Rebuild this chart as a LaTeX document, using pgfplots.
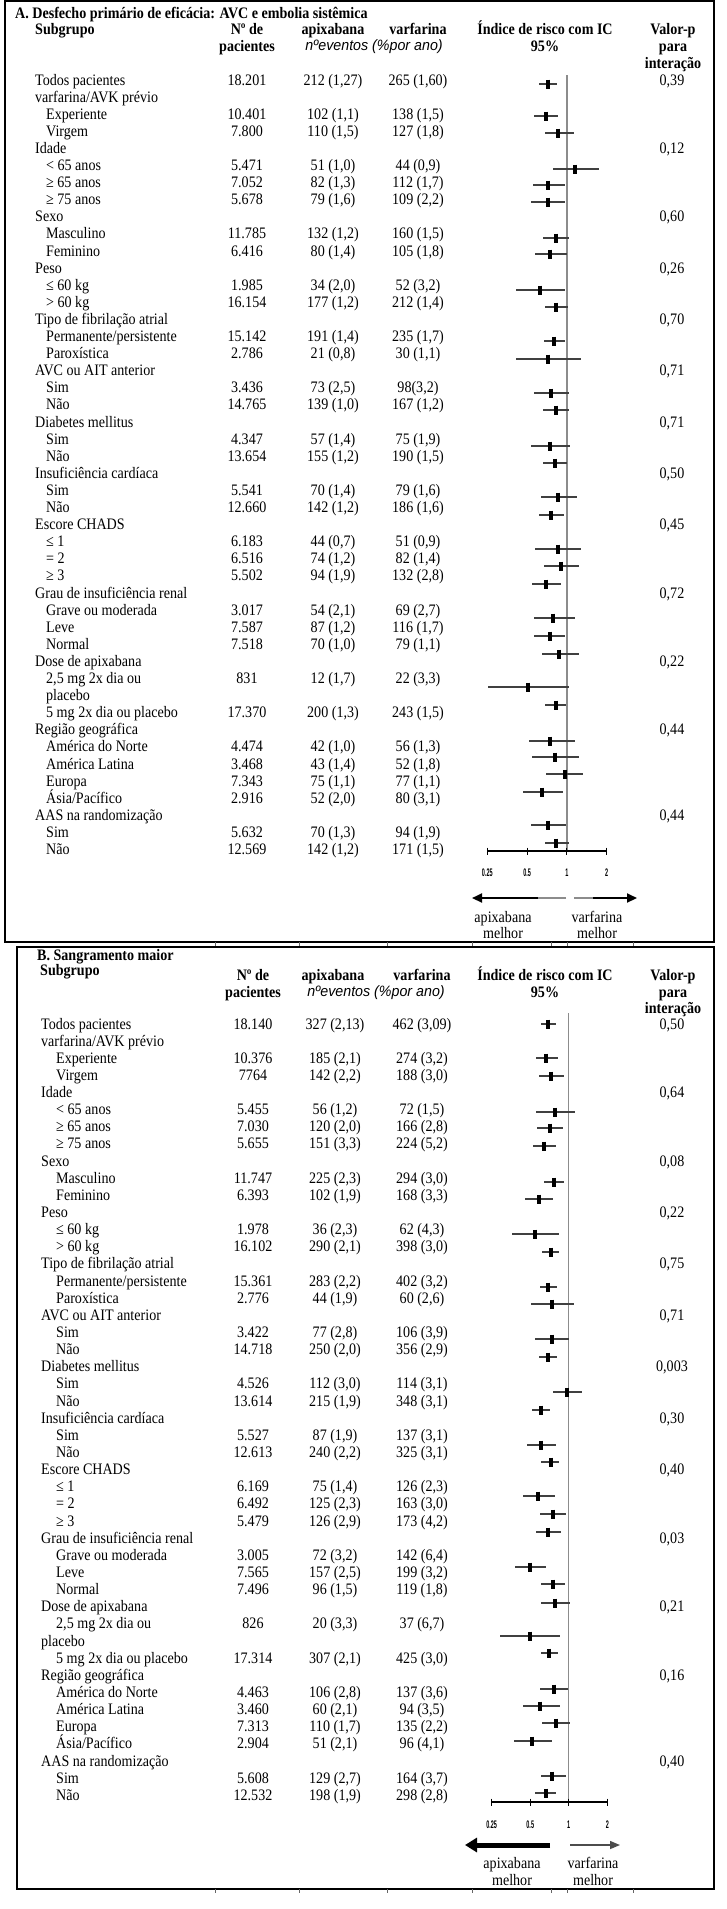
\documentclass[border=0pt]{standalone}
\usepackage{fontspec}
\setmainfont{Liberation Serif}[FakeStretch=0.88]
\newfontfamily\itsans{Liberation Sans}[FakeStretch=0.95]
\newfontfamily\tickfont{Liberation Sans}[FakeStretch=0.5]
\usepackage{pgfplots}
\usepackage{pgfplotstable}
\pgfplotsset{compat=1.18}
\usetikzlibrary{arrows.meta}

% forest data: y position (px from top), hazard ratio, CI low, CI high
\pgfplotstableread{
y hr lo hi
84 0.72 0.62 0.84
116 0.70 0.56 0.86
133 0.855 0.678 1.123
169 1.156 0.779 1.736
185 0.718 0.550 0.971
202 0.714 0.534 0.960
238 0.830 0.655 1.041
254 0.740 0.569 1.000
290 0.628 0.414 0.971
307 0.830 0.686 1.018
341 0.797 0.670 0.971
359 0.718 0.414 1.276
393 0.757 0.566 1.029
410 0.826 0.655 1.029
446 0.748 0.534 1.060
463 0.816 0.655 1.000
497 0.855 0.640 1.190
515 0.757 0.618 0.943
549 0.850 0.576 1.284
566 0.901 0.674 1.225
584 0.698 0.547 0.906
618 0.784 0.566 1.143
636 0.740 0.566 0.971
654 0.875 0.647 1.225
687 0.504 0.252 1.030
705 0.826 0.686 0.983
741 0.748 0.513 1.143
757 0.816 0.544 1.225
774 0.971 0.698 1.321
792 0.651 0.468 0.933
825 0.718 0.531 0.988
843 0.830 0.678 1.041
}\forestA

\pgfplotstableread{
y hr lo hi
1024 0.685 0.608 0.796
1058 0.665 0.556 0.830
1076 0.727 0.590 0.925
1112 0.782 0.556 1.127
1128 0.710 0.565 0.898
1146 0.645 0.523 0.796
1182 0.763 0.645 0.914
1199 0.583 0.456 0.750
1234 0.549 0.360 0.845
1252 0.727 0.619 0.845
1287 0.685 0.597 0.811
1304 0.736 0.508 1.094
1339 0.736 0.549 1.000
1357 0.685 0.590 0.811
1392 0.970 0.750 1.271
1410 0.608 0.517 0.719
1445 0.610 0.470 0.800
1462 0.723 0.604 0.840
1496 0.575 0.440 0.777
1514 0.754 0.600 0.959
1532 0.689 0.559 0.876
1567 0.496 0.383 0.669
1584 0.754 0.611 0.942
1603 0.782 0.604 1.030
1636 0.496 0.289 0.850
1653 0.702 0.604 0.825
1689 0.763 0.600 0.988
1706 0.593 0.440 0.850
1723 0.791 0.619 1.030
1741 0.520 0.374 0.745
1776 0.745 0.604 0.959
1793 0.661 0.549 0.791
}\forestB

\newcommand\RA[7]{%
  \node[anchor=base west] at (#2,{80+17.1*#1+5}) {#3};
  \node[anchor=base] at (247,{80+17.1*#1+5}) {#4};
  \node[anchor=base] at (333,{80+17.1*#1+5}) {#5};
  \node[anchor=base] at (418,{80+17.1*#1+5}) {#6};
  \node[anchor=base] at (672,{80+17.1*#1+5}) {#7};}
\newcommand\RB[7]{%
  \node[anchor=base west] at (#2,{1024+17.14*#1+5}) {#3};
  \node[anchor=base] at (253,{1024+17.14*#1+5}) {#4};
  \node[anchor=base] at (335,{1024+17.14*#1+5}) {#5};
  \node[anchor=base] at (422,{1024+17.14*#1+5}) {#6};
  \node[anchor=base] at (672,{1024+17.14*#1+5}) {#7};}

\newcommand\tickfnt{\tickfont\bfseries\fontsize{11}{11}\selectfont}

\begin{document}
\begin{tikzpicture}
\begin{scope}[x=1pt,y=-1pt, every node/.style={inner sep=0pt, font=\fontsize{16}{17}\selectfont}]
\path (0,0) rectangle (727,1909);
\draw[line width=1.5pt] (5,1) rectangle (714,942);
\draw[line width=1.5pt] (17,947) rectangle (714,1889);
\foreach \xx in {215,299,387,472,551,567,633}{
  \draw[black!60, line width=0.8pt] (\xx,942) -- (\xx,946);
  \draw[black!60, line width=0.8pt] (\xx,1889) -- (\xx,1893);}

% ---------- Panel A header
\begin{scope}[every node/.style={inner sep=0pt, font=\fontsize{16}{17}\selectfont\bfseries}]
\node[anchor=base west] at (15,18) {A. Desfecho primário de eficácia: AVC e embolia sistêmica};
\node[anchor=base west] at (35,34) {Subgrupo};
\node[anchor=base] at (247,34) {Nº de};
\node[anchor=base] at (247,51) {pacientes};
\node[anchor=base] at (333,34) {apixabana};
\node[anchor=base] at (418,34) {varfarina};
\node[anchor=base] at (545,34) {Índice de risco com IC};
\node[anchor=base] at (545,51) {95\%};
\node[anchor=base] at (673,34) {Valor-p};
\node[anchor=base] at (673,51) {para};
\node[anchor=base] at (673,68) {interação};
\end{scope}
\node[anchor=base, font=\itsans\itshape\fontsize{15}{17}\selectfont] at (374,50) {nºeventos (\%por ano)};

\RA{0}{35}{Todos pacientes}{18.201}{212 (1,27)}{265 (1,60)}{0,39}
\RA{1}{35}{varfarina/AVK prévio}{}{}{}{}
\RA{2}{46}{Experiente}{10.401}{102 (1,1)}{138 (1,5)}{}
\RA{3}{46}{Virgem}{7.800}{110 (1,5)}{127 (1,8)}{}
\RA{4}{35}{Idade}{}{}{}{0,12}
\RA{5}{46}{< 65 anos}{5.471}{51 (1,0)}{44 (0,9)}{}
\RA{6}{46}{≥ 65 anos}{7.052}{82 (1,3)}{112 (1,7)}{}
\RA{7}{46}{≥ 75 anos}{5.678}{79 (1,6)}{109 (2,2)}{}
\RA{8}{35}{Sexo}{}{}{}{0,60}
\RA{9}{46}{Masculino}{11.785}{132 (1,2)}{160 (1,5)}{}
\RA{10}{46}{Feminino}{6.416}{80 (1,4)}{105 (1,8)}{}
\RA{11}{35}{Peso}{}{}{}{0,26}
\RA{12}{46}{≤ 60 kg}{1.985}{34 (2,0)}{52 (3,2)}{}
\RA{13}{46}{> 60 kg}{16.154}{177 (1,2)}{212 (1,4)}{}
\RA{14}{35}{Tipo de fibrilação atrial}{}{}{}{0,70}
\RA{15}{46}{Permanente/persistente}{15.142}{191 (1,4)}{235 (1,7)}{}
\RA{16}{46}{Paroxística}{2.786}{21 (0,8)}{30 (1,1)}{}
\RA{17}{35}{AVC ou AIT anterior}{}{}{}{0,71}
\RA{18}{46}{Sim}{3.436}{73 (2,5)}{98(3,2)}{}
\RA{19}{46}{Não}{14.765}{139 (1,0)}{167 (1,2)}{}
\RA{20}{35}{Diabetes mellitus}{}{}{}{0,71}
\RA{21}{46}{Sim}{4.347}{57 (1,4)}{75 (1,9)}{}
\RA{22}{46}{Não}{13.654}{155 (1,2)}{190 (1,5)}{}
\RA{23}{35}{Insuficiência cardíaca}{}{}{}{0,50}
\RA{24}{46}{Sim}{5.541}{70 (1,4)}{79 (1,6)}{}
\RA{25}{46}{Não}{12.660}{142 (1,2)}{186 (1,6)}{}
\RA{26}{35}{Escore CHADS}{}{}{}{0,45}
\RA{27}{46}{≤ 1}{6.183}{44 (0,7)}{51 (0,9)}{}
\RA{28}{46}{= 2}{6.516}{74 (1,2)}{82 (1,4)}{}
\RA{29}{46}{≥ 3}{5.502}{94 (1,9)}{132 (2,8)}{}
\RA{30}{35}{Grau de insuficiência renal}{}{}{}{0,72}
\RA{31}{46}{Grave ou moderada}{3.017}{54 (2,1)}{69 (2,7)}{}
\RA{32}{46}{Leve}{7.587}{87 (1,2)}{116 (1,7)}{}
\RA{33}{46}{Normal}{7.518}{70 (1,0)}{79 (1,1)}{}
\RA{34}{35}{Dose de apixabana}{}{}{}{0,22}
\RA{35}{46}{2,5 mg 2x dia ou}{831}{12 (1,7)}{22 (3,3)}{}
\RA{36}{46}{placebo}{}{}{}{}
\RA{37}{46}{5 mg 2x dia ou placebo}{17.370}{200 (1,3)}{243 (1,5)}{}
\RA{38}{35}{Região geográfica}{}{}{}{0,44}
\RA{39}{46}{América do Norte}{4.474}{42 (1,0)}{56 (1,3)}{}
\RA{40}{46}{América Latina}{3.468}{43 (1,4)}{52 (1,8)}{}
\RA{41}{46}{Europa}{7.343}{75 (1,1)}{77 (1,1)}{}
\RA{42}{46}{Ásia/Pacífico}{2.916}{52 (2,0)}{80 (3,1)}{}
\RA{43}{35}{AAS na randomização}{}{}{}{0,44}
\RA{44}{46}{Sim}{5.632}{70 (1,3)}{94 (1,9)}{}
\RA{45}{46}{Não}{12.569}{142 (1,2)}{171 (1,5)}{}

% arrows A
\draw[line width=2pt, black!45] (566,898) -- (536,898);
\draw[line width=2pt, -{Triangle[length=10pt,width=9pt]}] (538,898) -- (472,898);
\draw[line width=2pt, black!45] (574,898) -- (595,898);
\draw[line width=2pt, -{Triangle[length=10pt,width=9pt]}] (593,898) -- (637,898);
\node[anchor=base] at (503,922) {apixabana};
\node[anchor=base] at (503,938) {melhor};
\node[anchor=base] at (597,922) {varfarina};
\node[anchor=base] at (597,938) {melhor};

% ---------- Panel B header
\begin{scope}[every node/.style={inner sep=0pt, font=\fontsize{16}{17}\selectfont\bfseries}]
\node[anchor=base west] at (37,960) {B. Sangramento maior};
\node[anchor=base west] at (40,975) {Subgrupo};
\node[anchor=base] at (253,980) {Nº de};
\node[anchor=base] at (253,997) {pacientes};
\node[anchor=base] at (333,980) {apixabana};
\node[anchor=base] at (422,980) {varfarina};
\node[anchor=base] at (545,980) {Índice de risco com IC};
\node[anchor=base] at (545,997) {95\%};
\node[anchor=base] at (673,980) {Valor-p};
\node[anchor=base] at (673,997) {para};
\node[anchor=base] at (673,1013) {interação};
\end{scope}
\node[anchor=base, font=\itsans\itshape\fontsize{15}{17}\selectfont] at (376,996) {nºeventos (\%por ano)};

\RB{0}{41}{Todos pacientes}{18.140}{327 (2,13)}{462 (3,09)}{0,50}
\RB{1}{41}{varfarina/AVK prévio}{}{}{}{}
\RB{2}{56}{Experiente}{10.376}{185 (2,1)}{274 (3,2)}{}
\RB{3}{56}{Virgem}{7764}{142 (2,2)}{188 (3,0)}{}
\RB{4}{41}{Idade}{}{}{}{0,64}
\RB{5}{56}{< 65 anos}{5.455}{56 (1,2)}{72 (1,5)}{}
\RB{6}{56}{≥ 65 anos}{7.030}{120 (2,0)}{166 (2,8)}{}
\RB{7}{56}{≥ 75 anos}{5.655}{151 (3,3)}{224 (5,2)}{}
\RB{8}{41}{Sexo}{}{}{}{0,08}
\RB{9}{56}{Masculino}{11.747}{225 (2,3)}{294 (3,0)}{}
\RB{10}{56}{Feminino}{6.393}{102 (1,9)}{168 (3,3)}{}
\RB{11}{41}{Peso}{}{}{}{0,22}
\RB{12}{56}{≤ 60 kg}{1.978}{36 (2,3)}{62 (4,3)}{}
\RB{13}{56}{> 60 kg}{16.102}{290 (2,1)}{398 (3,0)}{}
\RB{14}{41}{Tipo de fibrilação atrial}{}{}{}{0,75}
\RB{15}{56}{Permanente/persistente}{15.361}{283 (2,2)}{402 (3,2)}{}
\RB{16}{56}{Paroxística}{2.776}{44 (1,9)}{60 (2,6)}{}
\RB{17}{41}{AVC ou AIT anterior}{}{}{}{0,71}
\RB{18}{56}{Sim}{3.422}{77 (2,8)}{106 (3,9)}{}
\RB{19}{56}{Não}{14.718}{250 (2,0)}{356 (2,9)}{}
\RB{20}{41}{Diabetes mellitus}{}{}{}{0,003}
\RB{21}{56}{Sim}{4.526}{112 (3,0)}{114 (3,1)}{}
\RB{22}{56}{Não}{13.614}{215 (1,9)}{348 (3,1)}{}
\RB{23}{41}{Insuficiência cardíaca}{}{}{}{0,30}
\RB{24}{56}{Sim}{5.527}{87 (1,9)}{137 (3,1)}{}
\RB{25}{56}{Não}{12.613}{240 (2,2)}{325 (3,1)}{}
\RB{26}{41}{Escore CHADS}{}{}{}{0,40}
\RB{27}{56}{≤ 1}{6.169}{75 (1,4)}{126 (2,3)}{}
\RB{28}{56}{= 2}{6.492}{125 (2,3)}{163 (3,0)}{}
\RB{29}{56}{≥ 3}{5.479}{126 (2,9)}{173 (4,2)}{}
\RB{30}{41}{Grau de insuficiência renal}{}{}{}{0,03}
\RB{31}{56}{Grave ou moderada}{3.005}{72 (3,2)}{142 (6,4)}{}
\RB{32}{56}{Leve}{7.565}{157 (2,5)}{199 (3,2)}{}
\RB{33}{56}{Normal}{7.496}{96 (1,5)}{119 (1,8)}{}
\RB{34}{41}{Dose de apixabana}{}{}{}{0,21}
\RB{35}{56}{2,5 mg 2x dia ou}{826}{20 (3,3)}{37 (6,7)}{}
\RB{36}{41}{placebo}{}{}{}{}
\RB{37}{56}{5 mg 2x dia ou placebo}{17.314}{307 (2,1)}{425 (3,0)}{}
\RB{38}{41}{Região geográfica}{}{}{}{0,16}
\RB{39}{56}{América do Norte}{4.463}{106 (2,8)}{137 (3,6)}{}
\RB{40}{56}{América Latina}{3.460}{60 (2,1)}{94 (3,5)}{}
\RB{41}{56}{Europa}{7.313}{110 (1,7)}{135 (2,2)}{}
\RB{42}{56}{Ásia/Pacífico}{2.904}{51 (2,1)}{96 (4,1)}{}
\RB{43}{41}{AAS na randomização}{}{}{}{0,40}
\RB{44}{56}{Sim}{5.608}{129 (2,7)}{164 (3,7)}{}
\RB{45}{56}{Não}{12.532}{198 (1,9)}{298 (2,8)}{}

% arrows B
\draw[line width=5pt, -{Triangle[length=12pt,width=14pt]}] (550,1845) -- (465,1845);
\draw[line width=1.5pt, black!70, -{Triangle[length=10pt,width=8pt]}] (570,1845) -- (620,1845);
\node[anchor=base] at (512,1868) {apixabana};
\node[anchor=base] at (512,1885) {melhor};
\node[anchor=base] at (593,1868) {varfarina};
\node[anchor=base] at (593,1885) {melhor};

\coordinate (FA) at (487.3,851);
\coordinate (FB) at (491.7,1802);
\end{scope}

% ---------- forest plot A
\begin{axis}[at={(FA)}, anchor=south west, scale only axis, clip=false, hide axis,
  width=119.4pt, height=781pt, ymin=-851, ymax=-70,
  xmode=log, log basis x=2, xmin=0.25, xmax=2]
\addplot[draw=black!45, line width=1.2pt] coordinates {(1,-75) (1,-851)};
\addplot[black, line width=1.2pt] coordinates {(0.25,-851) (2,-851)};
\addplot[only marks, mark=|, mark size=3.5pt, mark options={line width=1pt, black}]
  coordinates {(0.25,-851) (0.5,-851) (1,-851) (2,-851)};
\node[font=\tickfnt] at (axis cs:0.25,-873) {0.25};
\node[font=\tickfnt] at (axis cs:0.5,-873) {0.5};
\node[font=\tickfnt] at (axis cs:1,-873) {1};
\node[font=\tickfnt] at (axis cs:2,-873) {2};
\addplot[only marks, mark=|, mark size=4.5pt, mark options={line width=4pt, black},
  error bars/.cd, x dir=both, x explicit,
  error bar style={line width=1.8pt, black!75}, error mark=none]
  table[x=hr, y expr=-\thisrow{y},
        x error plus expr=\thisrow{hi}-\thisrow{hr},
        x error minus expr=\thisrow{hr}-\thisrow{lo}] {\forestA};
\end{axis}

% ---------- forest plot B
\begin{axis}[at={(FB)}, anchor=south west, scale only axis, clip=false, hide axis,
  width=115.6pt, height=797pt, ymin=-1802, ymax=-1005,
  xmode=log, log basis x=2, xmin=0.25, xmax=2]
\addplot[draw=black!45, line width=1.2pt] coordinates {(1,-1013) (1,-1802)};
\addplot[black, line width=1.2pt] coordinates {(0.25,-1802) (2,-1802)};
\addplot[only marks, mark=|, mark size=3.5pt, mark options={line width=1pt, black}]
  coordinates {(0.25,-1802) (0.5,-1802) (1,-1802) (2,-1802)};
\node[font=\tickfnt] at (axis cs:0.25,-1825) {0.25};
\node[font=\tickfnt] at (axis cs:0.5,-1825) {0.5};
\node[font=\tickfnt] at (axis cs:1,-1825) {1};
\node[font=\tickfnt] at (axis cs:2,-1825) {2};
\addplot[only marks, mark=|, mark size=4.5pt, mark options={line width=4pt, black},
  error bars/.cd, x dir=both, x explicit,
  error bar style={line width=1.8pt, black!75}, error mark=none]
  table[x=hr, y expr=-\thisrow{y},
        x error plus expr=\thisrow{hi}-\thisrow{hr},
        x error minus expr=\thisrow{hr}-\thisrow{lo}] {\forestB};
\end{axis}
\end{tikzpicture}
\end{document}
